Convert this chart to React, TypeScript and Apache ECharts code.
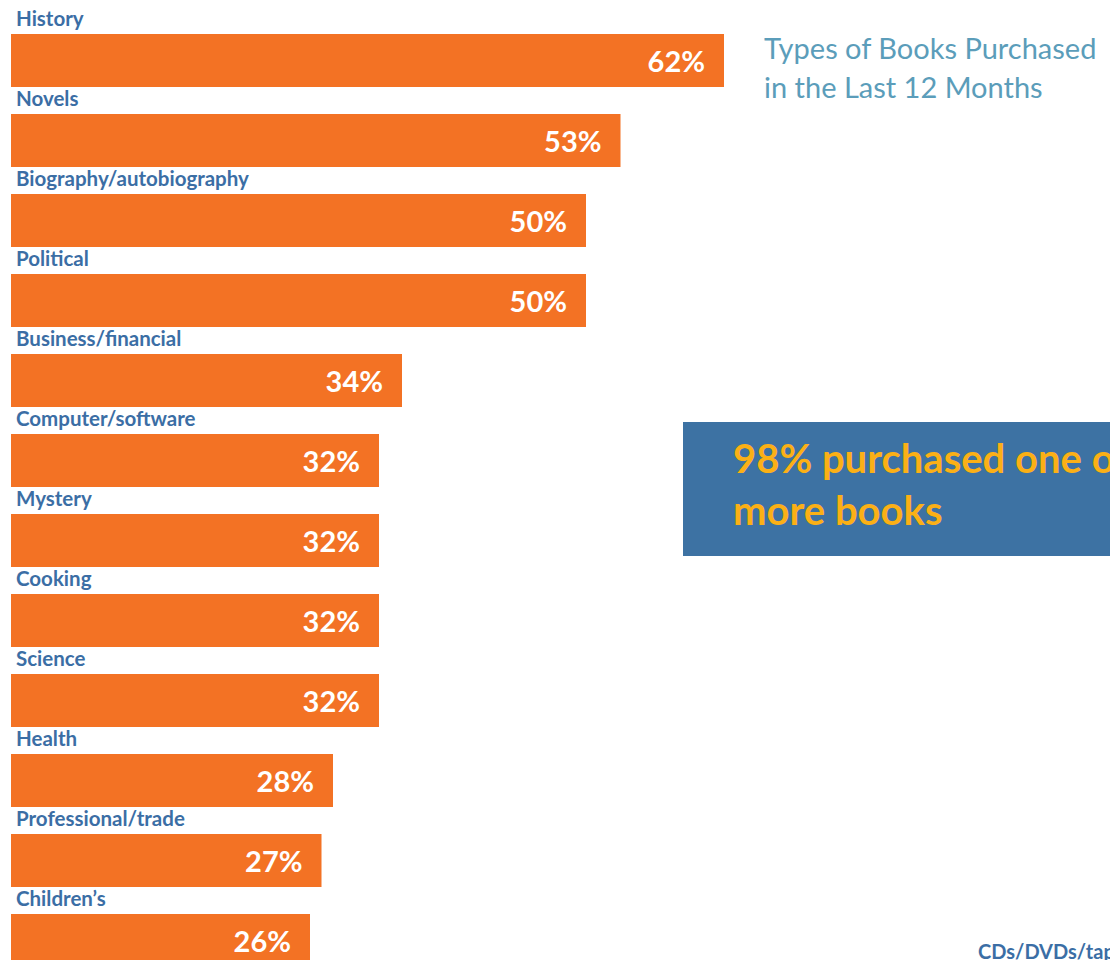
import React, { useEffect, useRef } from "react";
import * as echarts from "echarts";

const categories = [
  "History",
  "Novels",
  "Biography/autobiography",
  "Political",
  "Business/financial",
  "Computer/software",
  "Mystery",
  "Cooking",
  "Science",
  "Health",
  "Professional/trade",
  "Children’s",
];
const values = [62, 53, 50, 50, 34, 32, 32, 32, 32, 28, 27, 26];
const titleLines = ["Types of Books Purchased", "in the Last 12 Months"];
const calloutLines = ["98% purchased one or", "more books"];
const nextColumnLabel = "CDs/DVDs/tapes";

const ORANGE = "#F37224";
const LABEL_BLUE = "#3B6EA5";

export default function App() {
  const ref = useRef<HTMLDivElement>(null);
  useEffect(() => {
    if (!ref.current) return;
    const chart = echarts.init(ref.current, undefined, { renderer: "svg" });
    chart.setOption({
      animation: false,
      grid: { left: 11, top: 20.5, right: 0, height: 960, containLabel: false },
      xAxis: {
        type: "value",
        min: 0,
        max: 1099 / 11.5,
        show: false,
      },
      yAxis: {
        type: "category",
        data: categories,
        inverse: true,
        show: false,
      },
      series: [
        {
          type: "bar",
          data: values,
          barWidth: 53,
          barGap: "-100%",
          itemStyle: { color: ORANGE },
          label: {
            show: true,
            position: "insideRight",
            distance: 19,
            formatter: (p: any) => p.value + "%",
            color: "#ffffff",
            fontFamily: "Lato",
            fontWeight: "bold",
            fontSize: 29,
          },
        },
        {
          type: "bar",
          data: values,
          barWidth: 53,
          barGap: "-100%",
          silent: true,
          itemStyle: { color: "rgba(0,0,0,0)" },
          label: {
            show: true,
            position: [5, -16],
            verticalAlign: "middle",
            align: "left",
            formatter: (p: any) => p.name,
            color: LABEL_BLUE,
            fontFamily: "Lato",
            fontWeight: "bold",
            fontSize: 20.5,
          },
        },
      ],
      graphic: [
        {
          type: "text",
          left: 764,
          top: 28,
          style: {
            text: titleLines.join("\n"),
            fill: "#5B9DBA",
            font: "normal 29px Lato",
            lineHeight: 39,
          },
        },
        {
          type: "rect",
          shape: { x: 683, y: 422, width: 460, height: 134 },
          style: { fill: "#3D72A3" },
        },
        {
          type: "text",
          x: 733,
          y: 432,
          style: {
            text: calloutLines.join("\n"),
            fill: "#FBB016",
            font: "bold 40px Lato",
            lineHeight: 52,
          },
        },
        {
          type: "text",
          x: 978,
          y: 941,
          style: {
            text: nextColumnLabel,
            fill: LABEL_BLUE,
            font: "bold 20px Lato",
          },
        },
      ],
    });
    return () => chart.dispose();
  }, []);
  return (
    <div
      ref={ref}
      style={{ position: "fixed", left: 0, top: 0, width: 1110, height: 1000, background: "#fff" }}
    />
  );
}
